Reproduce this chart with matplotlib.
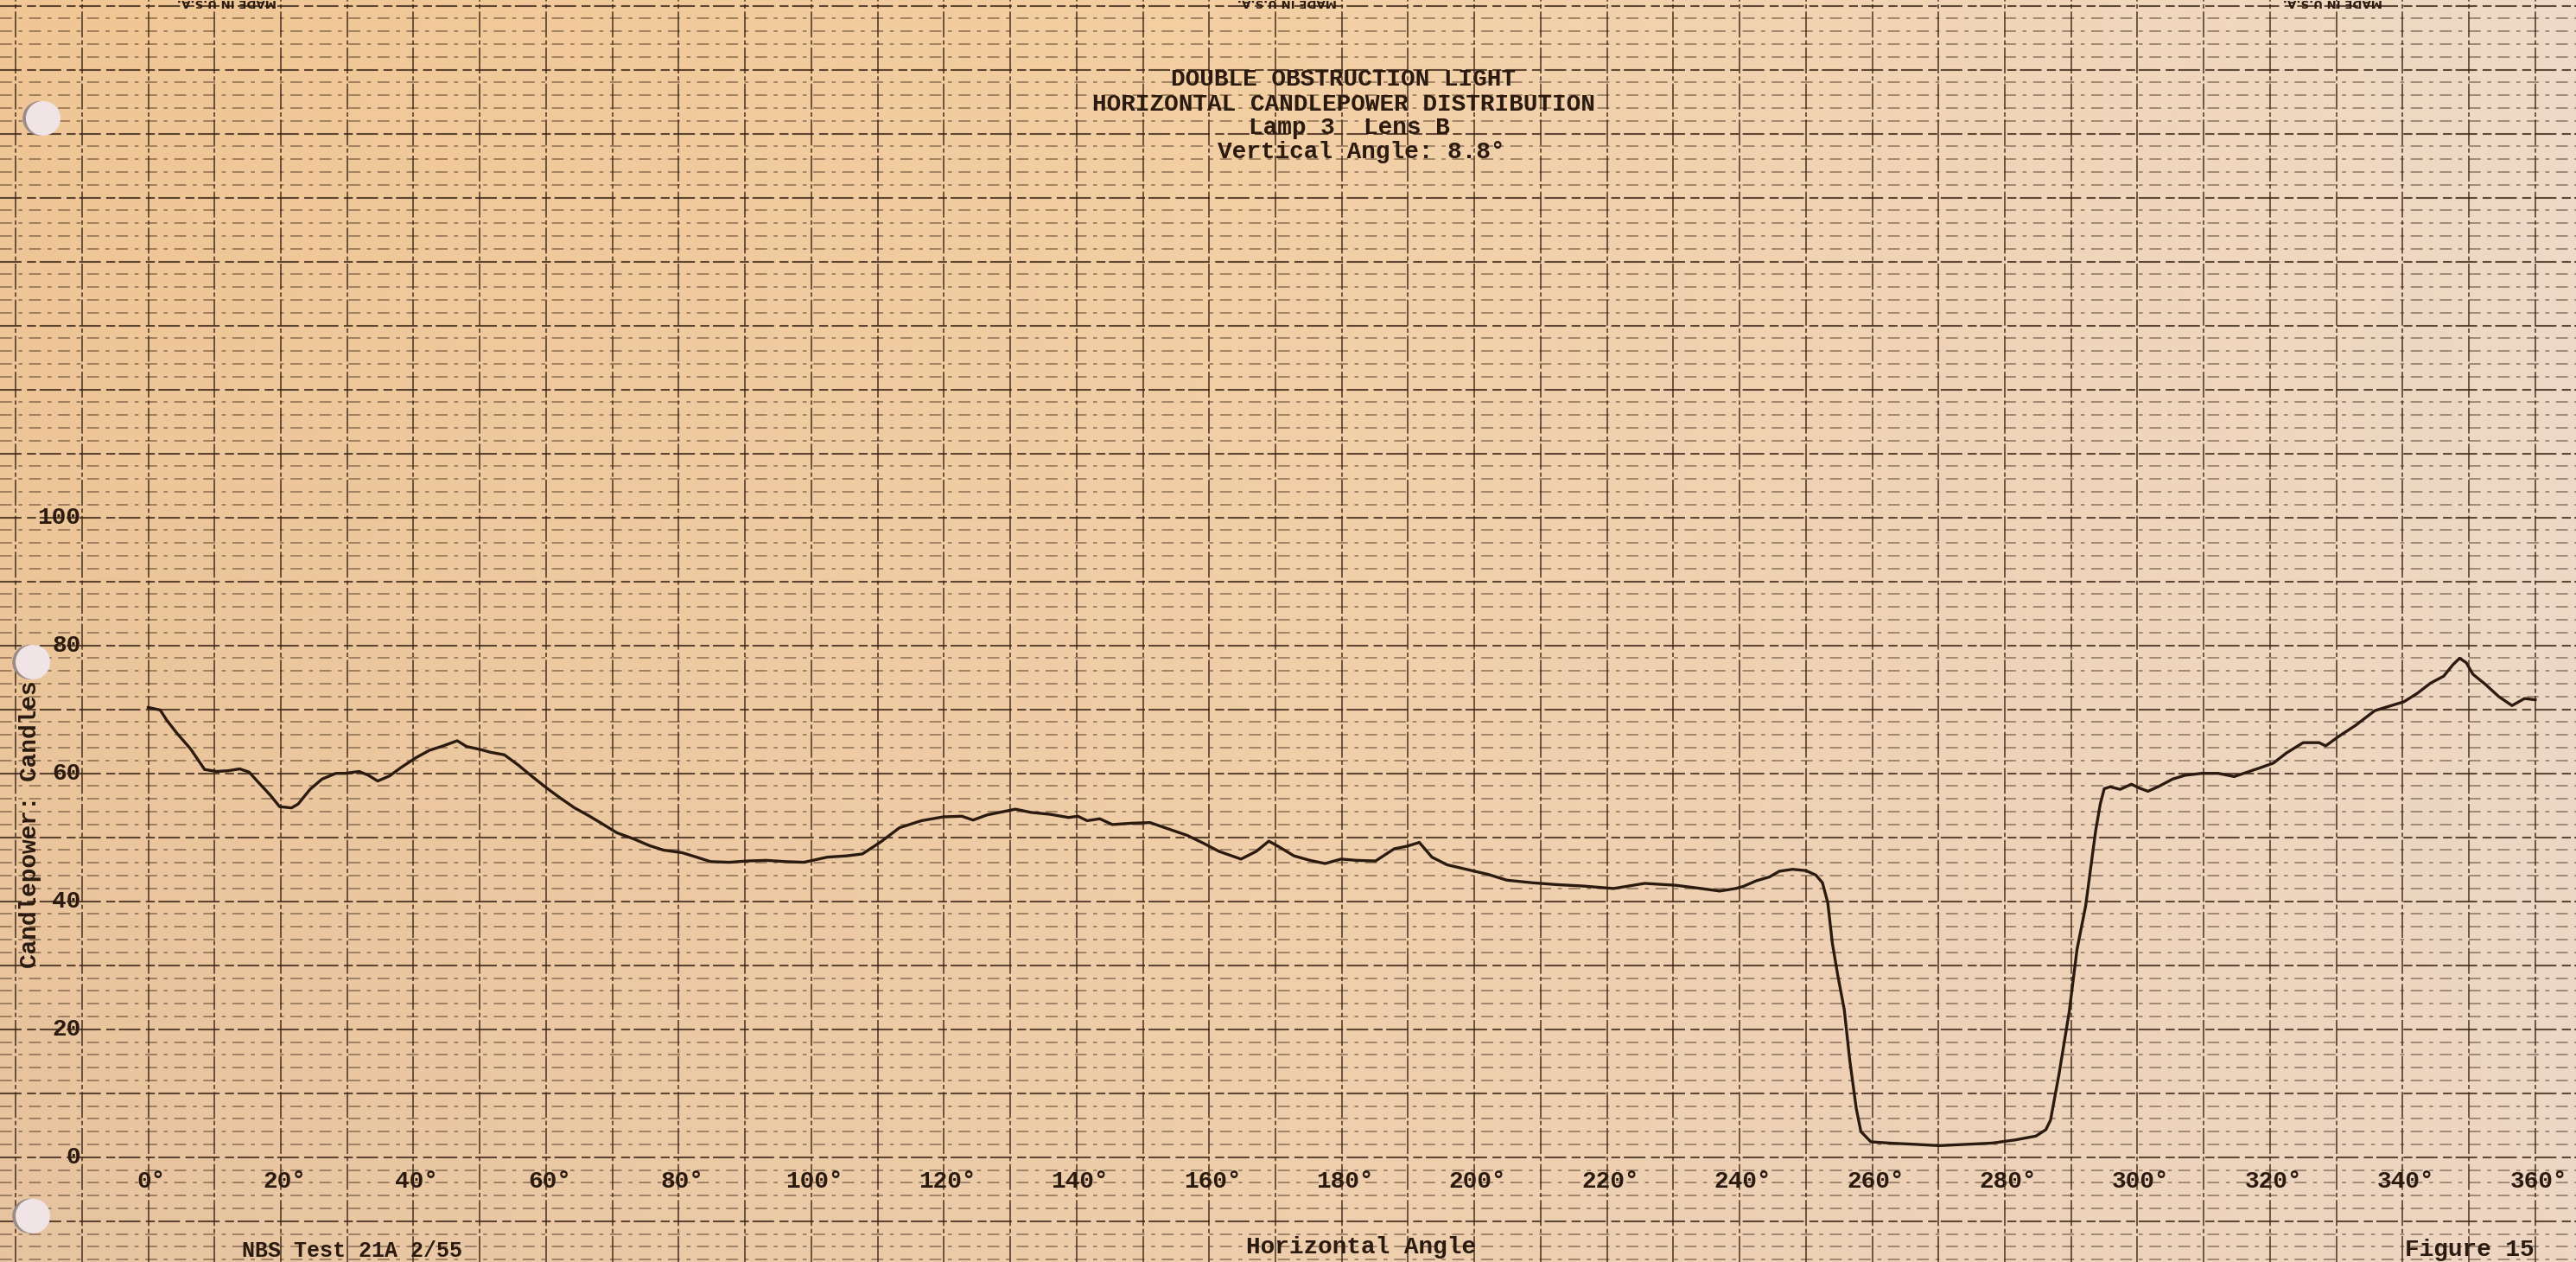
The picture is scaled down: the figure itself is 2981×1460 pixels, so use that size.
import numpy as np
import matplotlib
matplotlib.use("Agg")
from matplotlib import pyplot as plt
from matplotlib.patches import Ellipse

# trace (horizontal angle in degrees, candlepower in candles)
angle_deg = [0, 1.8, 2.8, 4.3, 6.4, 8.5, 10.3, 12.0, 13.8, 15.2, 16.6, 18.4, 19.8, 21.6, 22.6,
             24.4, 26.2, 28.3, 29.7, 31.8, 33.2, 34.6, 36.4, 38.1, 40.3, 42.4, 44.5, 46.6, 48.0,
             50.2, 51.6, 53.7, 55.8, 57.9, 60.1, 62.2, 64.3, 66.4, 68.5, 70.7, 73.1, 75.6, 77.7,
             80.5, 82.7, 84.8, 87.6, 90.4, 93.2, 96.1, 98.9, 102.4, 105.3, 107.7,
             110.5, 113.3, 116.6, 119.9, 122.7, 124.4, 126.5, 130.8, 133.1, 136.0, 138.8, 140.2,
             141.6, 143.5, 145.4, 148.2, 151.1, 153.9, 156.7, 159.1, 161.5, 164.8, 167.1, 169.0,
             170.4, 172.8, 175.2, 177.5, 179.9, 182.2, 185.1, 187.9, 189.8, 191.7, 193.6, 195.9,
             198.8, 202.1, 204.9, 208.7, 212.5, 216.2, 221.0, 225.7, 230.4, 234.2, 237.0, 239.4,
             240.5, 242.5, 244.5, 246.0, 248.0, 250.0, 251.5, 252.5, 253.3, 254.0, 254.8, 255.8,
             256.6, 257.6, 258.3, 259.8, 262.6, 266.6, 270.1, 274.1, 278.1, 281.6, 284.7, 286.2,
             286.9, 288.2, 289.7, 290.9, 292.2, 293.7, 294.4, 295.0, 295.9, 297.4, 299.1, 300.3,
             301.6, 303.3, 305.3, 307.2, 309.7, 312.2, 314.6, 316.6, 318.6, 320.5, 322.5, 325.0,
             327.4, 328.4, 330.4, 332.9, 335.8, 338.3, 340.2, 342.2, 344.2, 346.2, 347.6, 348.6,
             349.6, 350.6, 352.5, 354.5, 356.5, 358.4, 360.0]
candlepower = [70.3, 69.9, 68.3, 66.3, 63.8, 60.6, 60.3, 60.4, 60.7, 60.2, 58.6, 56.6, 54.8, 54.6, 55.2,
               57.5, 59.1, 60.0, 60.0, 60.3, 59.7, 58.8, 59.6, 60.9, 62.4, 63.6, 64.3, 65.1, 64.2,
               63.7, 63.3, 62.9, 61.3, 59.5, 57.7, 56.1, 54.6, 53.4, 52.1, 50.7, 49.8, 48.7, 48.0,
               47.6, 46.9, 46.2, 46.1, 46.3, 46.4, 46.2, 46.1, 46.9, 47.1, 47.4,
               49.3, 51.5, 52.6, 53.2, 53.3, 52.7, 53.5, 54.4, 53.9, 53.6, 53.1, 53.3,
               52.6, 52.9, 52.0, 52.2, 52.3, 51.3, 50.3, 49.1, 47.8, 46.6, 47.8, 49.4,
               48.6, 47.1, 46.4, 45.9, 46.6, 46.4, 46.3, 48.2, 48.6, 49.2, 46.9, 45.7,
               45.0, 44.2, 43.3, 42.9, 42.6, 42.4, 42.0, 42.8, 42.5, 42.0, 41.6, 42.0,
               42.3, 43.2, 43.8, 44.7, 45.0, 44.8, 44.1, 42.9, 39.8, 33.4, 28.5, 23.0,
               15.3, 7.6, 4.0, 2.4, 2.2, 2.0, 1.8, 2.0, 2.2, 2.7, 3.3, 4.3,
               5.8, 13.1, 22.6, 32.5, 39.3, 51.0, 55.2, 57.6, 57.9, 57.5, 58.3, 57.7,
               57.2, 58.0, 59.1, 59.7, 60.0, 60.0, 59.5, 60.2, 60.9, 61.6, 63.2, 64.8,
               64.8, 64.3, 65.8, 67.5, 69.8, 70.6, 71.2, 72.5, 74.1, 75.2, 77.0, 78.0,
               77.3, 75.5, 73.9, 72.0, 70.6, 71.7, 71.5]

x_ticks = list(range(0, 361, 20))
x_tick_labels = [f"{t}°" for t in x_ticks]
y_ticks = [0, 20, 40, 60, 80, 100]
title_lines = ["DOUBLE OBSTRUCTION LIGHT",
               "HORIZONTAL CANDLEPOWER DISTRIBUTION",
               "Lamp 3  Lens B",
               "Vertical Angle: 8.8°"]

MONO = ["Liberation Mono", "DejaVu Sans Mono"]
INK = "#2a1a0f"
GRID = "#3a2415"

# the whole sheet is one axes, in chart units
X0, X1 = -22.36, 366.15
Y0, Y1 = -16.39, 180.9

fig = plt.figure(figsize=(29.81, 14.60), dpi=100)
ax = fig.add_axes([0, 0, 1, 1])

# paper tint, orange on the left fading to pale on the right
cols = np.linspace(0, 1, 160)
rows = np.linspace(0, 1, 80)
top_rgb = np.array([[240, 198, 148], [243, 207, 163], [239, 218, 199]]) / 255
bot_rgb = np.array([[231, 196, 160], [238, 206, 172], [237, 214, 195]]) / 255
anchors = [0, 0.5, 1]
top = np.stack([np.interp(cols, anchors, top_rgb[:, c]) for c in range(3)], axis=-1)
bot = np.stack([np.interp(cols, anchors, bot_rgb[:, c]) for c in range(3)], axis=-1)
paper = top[None, :, :] * (1 - rows[:, None, None]) + bot[None, :, :] * rows[:, None, None]
ax.imshow(paper, extent=(X0, X1, Y0, Y1), origin="upper", aspect="auto",
          interpolation="bilinear", zorder=0)

# printed grid: 10 deg columns, 2 candle rows, a little heavier every 10 candles
for gx in range(-20, 361, 10):
    ax.axvline(gx, color=GRID, lw=1.2, alpha=0.85, ls=(0, (18, 2, 3, 2)), zorder=1)
for gy in range(-16, 181, 2):
    if gy % 10 == 0:
        ax.axhline(gy, color=GRID, lw=1.5, alpha=0.8, ls=(0, (12, 3, 5, 2)), zorder=1)
    else:
        ax.axhline(gy, color=GRID, lw=1.1, alpha=0.55, ls=(0, (9, 5, 3, 5)), zorder=1)

ax.plot(angle_deg, candlepower, color=INK, lw=2.4, solid_joinstyle="round", zorder=3)

# typed labels
title_x = [180.3, 180.3, 181.1, 182.9]
title_y = [168.5, 164.5, 160.9, 157.1]
for line, tx, ty in zip(title_lines, title_x, title_y):
    ax.text(tx, ty, line, family=MONO, fontsize=20, fontweight="bold", color=INK,
            ha="center", va="center", zorder=4)

for t, lab in zip(x_ticks, x_tick_labels):
    ax.text(t + 0.5, -3.8, lab, family=MONO, fontsize=20, fontweight="bold", color=INK,
            ha="center", va="center", zorder=4)
for t in y_ticks:
    ax.text(-10.2, t, str(t), family=MONO, fontsize=20, fontweight="bold", color=INK,
            ha="right", va="center", zorder=4)

ax.text(-17.8, 52, "Candlepower: Candles", family=MONO, fontsize=20, fontweight="bold",
        color=INK, rotation=90, ha="center", va="center", zorder=4)
ax.text(182.9, -14.1, "Horizontal Angle", family=MONO, fontsize=20, fontweight="bold",
        color=INK, ha="center", va="center", zorder=4)
ax.text(350.1, -16.2, "Figure 15", family=MONO, fontsize=20, fontweight="bold",
        color=INK, ha="center", va="bottom", zorder=4)
ax.text(30.7, -16.2, "NBS Test 21A 2/55", family=MONO, fontsize=18, fontweight="bold",
        color=INK, ha="center", va="bottom", zorder=4)
for mx in [11.8, 171.8, 329.5]:
    ax.text(mx, 180.5, "MADE IN U.S.A.", fontsize=9.5, fontweight="bold", color=INK,
            rotation=180, ha="center", va="center", zorder=4)

# punched holes along the left edge
hole_w, hole_h = 40 / 7.673, 40 / 7.4
for hx, hy in [(-15.85, 162.4), (-17.4, 77.4), (-17.4, -9.2)]:
    ax.add_patch(Ellipse((hx - 0.5, hy), hole_w, hole_h, facecolor="#9c8c86",
                         edgecolor="none", zorder=5))
    ax.add_patch(Ellipse((hx, hy), hole_w, hole_h, facecolor="#f1e4e6",
                         edgecolor="none", zorder=6))

ax.set_xlim(X0, X1)
ax.set_ylim(Y0, Y1)
ax.axis("off")

fig.savefig("out.png", dpi=100)
